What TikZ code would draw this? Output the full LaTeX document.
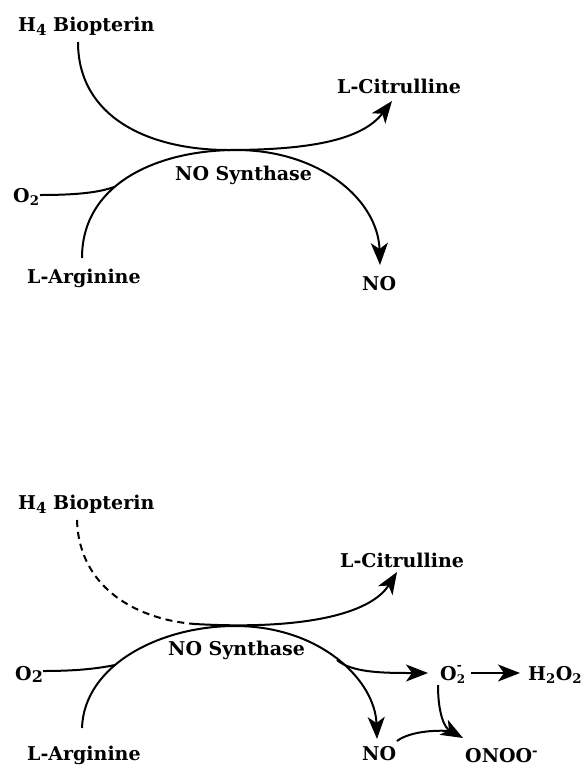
\documentclass[tikz,border=0pt]{standalone}
\usepackage{fontspec}
\setmainfont{DejaVu Serif}
\usetikzlibrary{arrows.meta,calc}
\newcommand{\lowr}[1]{\raisebox{-0.22em}{\fontsize{15}{15}\selectfont #1}}
\newcommand{\lowb}[1]{\raisebox{-0.12em}{\fontsize{16}{16}\selectfont #1}}
\newcommand{\supsub}[2]{\rlap{\raisebox{-0.2em}{\fontsize{12}{12}\selectfont #1}}\raisebox{0.55em}{\fontsize{12}{12}\selectfont #2}}
\begin{document}
\begin{tikzpicture}[x=1pt,y=-1pt,
  lbl/.style={anchor=base west, inner sep=0pt, font=\fontsize{19}{22}\bfseries\selectfont},
  ln/.style={line width=2pt},
  arr/.style={ln, -{Stealth[length=22pt,width=17pt,inset=6pt]}},
  dsh/.style={ln, dash pattern=on 7pt off 5pt}]
\useasboundingbox (0,0) rectangle (584,766);
% ---------- top ----------
\node[lbl] (h4t) at (18,31) {H\lowr{4} Biopterin};
\node[lbl] (cit) at (337,93) {L-Citrulline};
\node[lbl] (nos) at (175,180) {NO Synthase};
\node[lbl] (o2t) at (13,202) {O\textsubscript{2}};
\node[lbl] (argt) at (27,283) {L-Arginine};
\node[lbl] (not) at (362,290) {NO};
\coordinate (tA) at (228,150);
\coordinate (tB) at (236,150);
\coordinate (jt) at (114,187);
\draw[arr] ($(h4t.base west)+(60,11)$) .. controls (78,118) and (150,150) .. (tA)
  .. controls (310,150) and (362,140) .. ($(cit.base west)+(55,8)$);
\draw[arr] ($(argt.base west)+(55,-25)$) .. controls (82,182) and (160,150) .. (tB)
  .. controls (320,150) and (378,200) .. ($(not.base west)+(18,-25)$);
\draw[ln] ($(o2t.base west)+(27,-7)$) .. controls (80,195) and (100,192) .. (jt);
% ---------- bottom ----------
\node[lbl] (h4b) at (18,509) {H\lowr{4} Biopterin};
\node[lbl] (citb) at (340,567) {L-Citrulline};
\node[lbl] (nosb) at (168,655) {NO Synthase};
\node[lbl] (o2b) at (15,680) {O\lowb{2}};
\node[lbl] (argb) at (27,760) {L-Arginine};
\node[lbl] (o2m) at (440,680) {O\supsub{2}{-}};
\node[lbl] (h2o2) at (528,680) {H\textsubscript{2}O\textsubscript{2}};
\node[lbl] (onoo) at (465,762) {ONOO\textsuperscript{-}};
\node[lbl] (nob) at (362,760) {NO};
\coordinate (dA) at (195,624);
\coordinate (tBb) at (235,626);
\coordinate (jb) at (115,665);
\coordinate (br) at (337,660);
\draw[dsh] ($(h4b.base west)+(59,11)$) .. controls (79,590) and (140,620) .. (dA);
\draw[arr] (dA) .. controls (300,630) and (370,615) .. ($(citb.base west)+(57,5)$);
\draw[arr] ($(argb.base west)+(55,-32)$) .. controls (84,665) and (160,626) .. (tBb)
  .. controls (320,626) and (375,680) .. ($(nob.base west)+(15,-21)$);
\draw[ln] ($(o2b.base west)+(28,-9)$) .. controls (80,671) and (100,668) .. (jb);
\draw[arr] (br) .. controls (352,673) and (385,673) .. ($(o2m.base west)+(-12,-7)$);
\draw[arr] ($(o2m.base west)+(31,-7)$) -- ($(h2o2.base west)+(-8,-7)$);
\draw[arr] ($(o2m.base west)+(-2,5)$) .. controls (438,715) and (445,728) .. ($(onoo.base west)+(-2,-24)$);
\draw[ln] ($(nob.base west)+(35,-19)$) .. controls (410,731) and (440,729) .. ($(onoo.base west)+(-8,-30)$);
\end{tikzpicture}
\end{document}
